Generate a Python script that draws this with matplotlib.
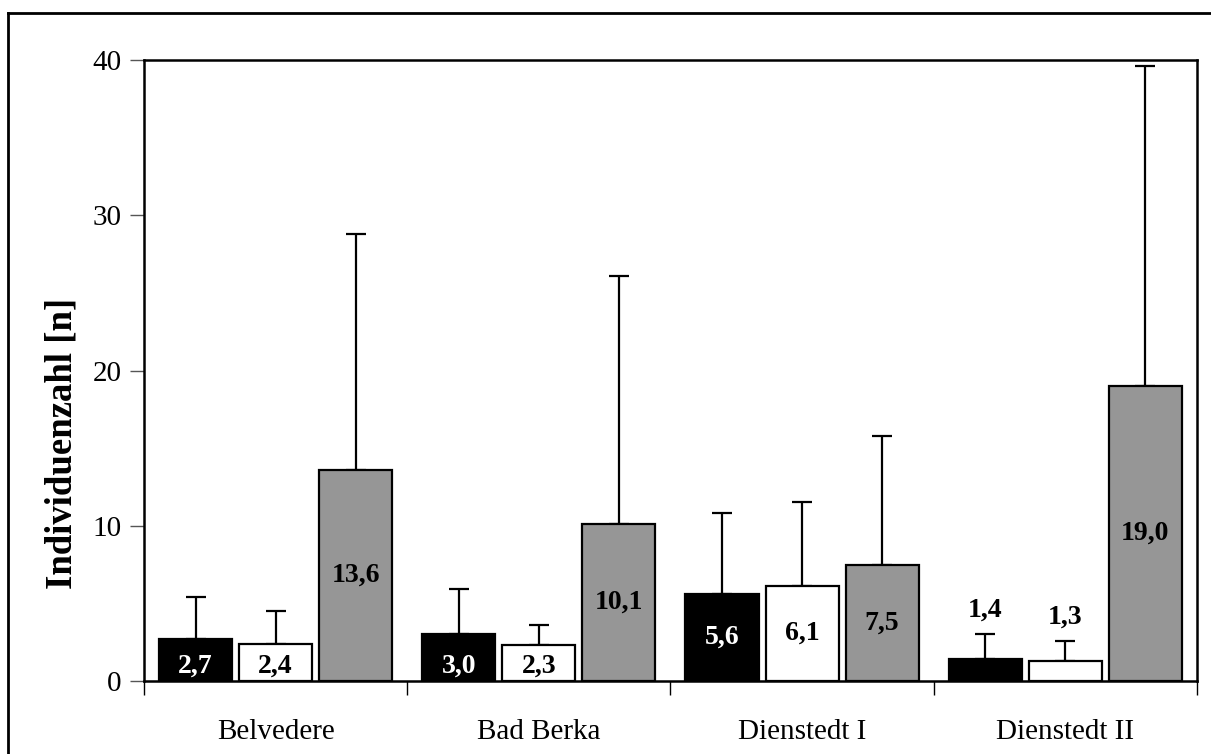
import matplotlib
matplotlib.use("Agg")
import matplotlib.pyplot as plt
import numpy as np
from matplotlib.lines import Line2D

plt.rcParams['font.family'] = ['Liberation Serif', 'DejaVu Serif']

sites = ['Belvedere', 'Bad Berka', 'Dienstedt I', 'Dienstedt II']
# mean individual counts per site (three series) and upper standard deviation
black_vals = [2.7, 3.0, 5.6, 1.4]
white_vals = [2.4, 2.3, 6.1, 1.3]
grey_vals = [13.6, 10.1, 7.5, 19.0]
black_sd = [2.7, 2.9, 5.2, 1.6]
white_sd = [2.1, 1.3, 5.4, 1.25]
grey_sd = [15.2, 16.0, 8.3, 20.6]

fig = plt.figure(figsize=(12.11, 7.54), dpi=100)
ax = fig.add_axes([0.1189, 0.0968, 0.8695, 0.8236])

x = np.arange(len(sites))
width = 0.278
step = 0.304
series = [
    (black_vals, black_sd, 'black', 'white'),
    (white_vals, white_sd, 'white', 'black'),
    (grey_vals, grey_sd, '#969696', 'black'),
]

for i, (vals, sd, fc, tc) in enumerate(series):
    pos = x + (i - 1) * step
    ax.bar(pos, vals, width, color=fc, edgecolor='black', linewidth=1.6, zorder=2)
    ax.errorbar(pos, vals, yerr=[np.zeros(len(vals)), sd], fmt='none',
                ecolor='black', elinewidth=1.6, capsize=7, capthick=1.6, zorder=1)
    for j, (p, v) in enumerate(zip(pos, vals)):
        txt = f'{v:.1f}'.replace('.', ',')
        if sites[j] == 'Dienstedt II' and i < 2:
            # tiny bars: label sits above the error bar
            ax.text(p, v + sd[j] + 1.55, txt, ha='center', va='center',
                    fontsize=20, fontweight='bold', color='black', zorder=3)
        else:
            ylab = v / 2 if v / 2 > 1.6 else 0.95
            ax.text(p, ylab, txt, ha='center', va='center',
                    fontsize=20, fontweight='bold', color=tc, zorder=3)

ax.set_xlim(-0.5, len(sites) - 0.5)
ax.set_ylim(0, 40)
ax.set_yticks([0, 10, 20, 30, 40])
ax.tick_params(axis='y', direction='out', length=10, width=1, labelsize=21,
               pad=6, color='#555555')
ax.set_xticks(x)
ax.set_xticklabels(sites)
ax.tick_params(axis='x', which='major', length=0, labelsize=21, pad=27)
ax.set_xticks(np.arange(len(sites) + 1) - 0.5, minor=True)
ax.tick_params(axis='x', which='minor', direction='out', length=10, width=1)
for s in ax.spines.values():
    s.set_linewidth(1.8)
ax.set_ylabel('Individuenzahl [n]', fontsize=26.5, fontweight='bold')
ax.yaxis.set_label_coords(-0.061, 0.383)

# outer frame of the chart area
x0, y0 = 8 / 1211, 1 - 13 / 754
fig.add_artist(Line2D([x0, x0], [y0, -0.1], transform=fig.transFigure,
                      color='black', linewidth=2))
fig.add_artist(Line2D([x0, 1.1], [y0, y0], transform=fig.transFigure,
                      color='black', linewidth=2))

fig.savefig('out.png', dpi=100)
